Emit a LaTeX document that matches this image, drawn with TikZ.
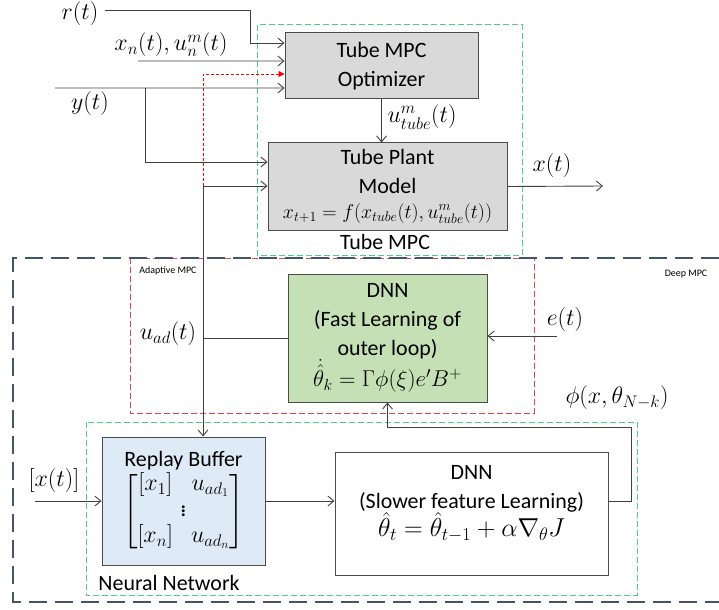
\RequirePackage{fix-cm}
\documentclass[tikz,border=0pt]{standalone}
\usepackage{fontspec}
\setmainfont{Carlito}
\usepackage{amsmath}
\usetikzlibrary{arrows.meta,positioning}

\definecolor{boxgray}{HTML}{D9D9D9}
\definecolor{boxgreen}{HTML}{C5E0B4}
\definecolor{boxblue}{HTML}{DEEBF7}
\definecolor{dashgreen}{HTML}{4FD08A}
\definecolor{dashred}{HTML}{E04848}
\definecolor{deepslate}{HTML}{44546A}

\tikzset{
  line/.style={draw=black!75, line width=0.9bp},
  arr/.style={line, -{Straight Barb[length=6bp,width=10bp]}},
  block/.style={draw=black!70, line width=1bp, align=center, inner sep=0pt},
  greenbox/.style={draw=dashgreen, line width=1bp, dash pattern=on 6bp off 3bp},
  redbox/.style={draw=dashred, line width=1bp, dash pattern=on 6bp off 3bp},
  deepbox/.style={draw=deepslate, line width=2.5bp, dash pattern=on 18bp off 8bp},
  reddot/.style={draw=red, line width=0.9bp, dash pattern=on 3bp off 2bp,
    -{Triangle[length=6bp,width=6bp]}},
  smalltext/.style={font=\fontsize{10}{12}\selectfont},
  lbl/.style={font=\fontsize{24}{28}\selectfont}
}

\begin{document}
\begin{tikzpicture}[x=1bp,y=-1bp,font=\fontsize{22}{29}\selectfont]
  \useasboundingbox (0,0) rectangle (719,610);

  % dashed frames
  \draw[greenbox] (257,25) rectangle (522,255);
  \draw[redbox] (130,258) rectangle (534,413);
  \draw[greenbox] (86,422) rectangle (637,595);
  \draw[deepbox] (719,258) -- (13,258) -- (13,602) -- (719,602);

  % blocks
  \node[block, fill=boxgray, minimum width=193bp, minimum height=66bp] (opt) at (381.5,66)
    {Tube MPC\\Optimizer\\[-26bp]\mbox{}};
  \node[block, fill=boxgray, minimum width=239bp, minimum height=87bp] (plant) at (387.5,186.5)
    {Tube Plant\\Model\\[-4bp]{\fontsize{20}{24}\selectfont$x_{t+1}=f(x_{tube}(t),u^{m}_{tube}(t))$}};
  \node[block, fill=boxgreen, minimum width=199bp, minimum height=128bp] (fastdnn) at (387.5,338)
    {DNN\\(Fast Learning of\\outer loop)\\{\fontsize{23}{29}\selectfont$\dot{\hat{\theta}}_k=\Gamma\phi(\xi)e'B^{+}$}};
  \node[block, fill=boxblue, minimum width=163bp, minimum height=128bp] (buffer) at (183.5,501)
    {Replay Buffer\\[1bp]{\fontsize{24}{26}\selectfont\setlength{\arraycolsep}{9bp}$\begin{bmatrix}[x_1] & u_{ad_1}\\ \multicolumn{2}{c}{\vdots}\\ [x_n] & u_{ad_n}\end{bmatrix}$}};
  \node[block, fill=white, minimum width=273bp, minimum height=123bp] (slowdnn) at (471.5,513.5)
    {DNN\\(Slower feature Learning)\\{\fontsize{26}{29}\selectfont$\hat{\theta}_t=\hat{\theta}_{t-1}+\alpha\nabla_{\theta}J$}\\[-4bp]\mbox{}};

  % labels
  \node[lbl] (lr) at (80,14) {$r(t)$};
  \node[lbl] (lxn) at (171,45) {$x_n(t),u^{m}_n(t)$};
  \node[lbl] (ly) at (90,104) {$y(t)$};
  \node[lbl, anchor=west] (lutube) at (384,117) {$u^{m}_{tube}(t)$};
  \node[lbl] (lx) at (552,166) {$x(t)$};
  \node (ltube) at (385,242) {Tube MPC};
  \node[smalltext] (ladapt) at (168,271) {Adaptive MPC};
  \node[smalltext] (ldeep) at (686,274) {Deep MPC};
  \node[lbl] (luad) at (168,334) {$u_{ad}(t)$};
  \node[lbl] (le) at (565,320) {$e(t)$};
  \node[lbl] (lphi) at (617,398) {$\phi(x,\theta_{N-k})$};
  \node[lbl] (lxin) at (54,481) {$[x(t)]$};
  \node (lnn) at (169,583) {Neural Network};

  % free ends
  \coordinate (rin) at (105,10);
  \coordinate (rc) at (250,10);
  \coordinate (xnin) at (138,61);
  \coordinate (yin) at (55,88);
  \coordinate (yb) at (145,88);
  \coordinate (j) at (203,186);
  \coordinate (xout) at (603,186);
  \coordinate (ein) at (557,336);
  \coordinate (xin) at (35,501);
  \coordinate (fb) at (631,427);

  % connectors
  \draw[arr] (rin) -- (rc) |- ([yshift=23bp]opt.west);
  \draw[arr] (xnin) -- ([yshift=5bp]opt.west);
  \draw[reddot] (j) |- ([yshift=-8bp]opt.west);
  \draw[arr] (yin) -- ([yshift=-22bp]opt.west);
  \draw[arr] (yb) |- ([yshift=24.5bp]plant.west);
  \draw[arr] (j) -- (j -| plant.west);
  \draw[arr] (opt.south) -- (opt.south |- plant.north);
  \draw[arr] (plant.east) -- (xout);
  \draw[line] (fastdnn.west) -- (fastdnn.west -| j);
  \draw[arr] (j) -- (j |- buffer.north);
  \draw[arr] (ein) -- (fastdnn.east |- ein);
  \draw[arr] (xin) -- (buffer.west);
  \draw[arr] (buffer.east) -- (buffer.east -| slowdnn.west);
  \draw[arr] ([yshift=12.5bp]slowdnn.east) -| (fb) -| (fastdnn.south);
\end{tikzpicture}
\end{document}
